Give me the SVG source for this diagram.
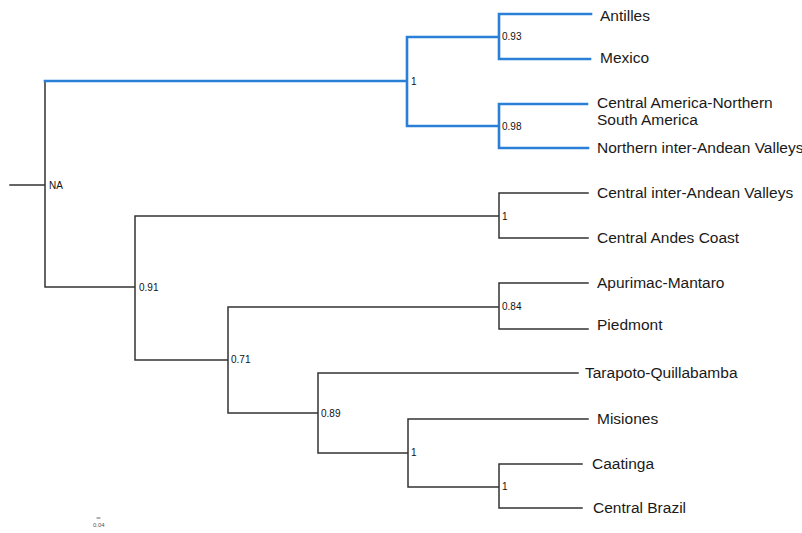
<svg xmlns="http://www.w3.org/2000/svg" width="802" height="533" viewBox="0 0 802 533">
<style>
.e{fill:none;stroke:#333;stroke-width:1.5;stroke-linecap:square}
.b{fill:none;stroke:#2a7fd6;stroke-width:2.6;stroke-linecap:square}
.t{font-family:"Liberation Sans",Arial,sans-serif;font-size:15.5px;fill:#1a1a1a}
.n{font-family:"Liberation Sans",Arial,sans-serif;font-size:10px;fill:#111}
.s{font-family:"Liberation Sans",Arial,sans-serif;font-size:6px;fill:#555}
</style>
<rect width="802" height="533" fill="#fff"/>
<g id="connectors">
<path class="e" d="M10 185H45M45 81V287M45 287H135M135 216V360M135 216H499M499 193V238M499 193H588M499 238H588M135 360H228M228 307V413M228 307H499M499 283V329M499 283H588M499 329H588M228 413H318M318 373V453M318 373H578M318 453H408M408 419V487M408 419H588M408 487H499M499 464V508M499 464H582M499 508H582"/>
<path class="b" d="M45 81H407M407 37V126M407 37H499M499 14V59M499 14H591M499 59H590M407 126H499M499 104V148M499 104H587M499 148H588"/>
</g>
<g id="node-root"><text class="n" x="49" y="189">NA</text></g>
<g id="node-n1"><text class="n" x="411" y="85">1</text></g>
<g id="node-n093"><text class="n" x="502" y="40">0.93</text></g>
<g id="node-n098"><text class="n" x="502" y="130">0.98</text></g>
<g id="node-n091"><text class="n" x="139" y="291">0.91</text></g>
<g id="node-n1b"><text class="n" x="502" y="220">1</text></g>
<g id="node-n071"><text class="n" x="231" y="363">0.71</text></g>
<g id="node-n084"><text class="n" x="502" y="310">0.84</text></g>
<g id="node-n089"><text class="n" x="321" y="417">0.89</text></g>
<g id="node-n1c"><text class="n" x="411" y="456">1</text></g>
<g id="node-n1d"><text class="n" x="502" y="490">1</text></g>
<g id="tip-antilles"><text class="t" x="600" y="21">Antilles</text></g>
<g id="tip-mexico"><text class="t" x="600" y="63">Mexico</text></g>
<g id="tip-cana"><text class="t" x="597" y="108">Central America-Northern</text><text class="t" x="597" y="125">South America</text></g>
<g id="tip-niav"><text class="t" x="597" y="153">Northern inter-Andean Valleys</text></g>
<g id="tip-ciav"><text class="t" x="597" y="198">Central inter-Andean Valleys</text></g>
<g id="tip-cac"><text class="t" x="597" y="243">Central Andes Coast</text></g>
<g id="tip-apm"><text class="t" x="597" y="288">Apurimac-Mantaro</text></g>
<g id="tip-pied"><text class="t" x="597" y="330">Piedmont</text></g>
<g id="tip-tq"><text class="t" x="585" y="378">Tarapoto-Quillabamba</text></g>
<g id="tip-mis"><text class="t" x="597" y="424">Misiones</text></g>
<g id="tip-caa"><text class="t" x="592" y="469">Caatinga</text></g>
<g id="tip-cb"><text class="t" x="593" y="513">Central Brazil</text></g>
<g id="scale">
<path d="M96.5 518H100.5" stroke="#666" stroke-width="1"/>
<text class="s" x="93" y="527">0.04</text>
</g>
</svg>
